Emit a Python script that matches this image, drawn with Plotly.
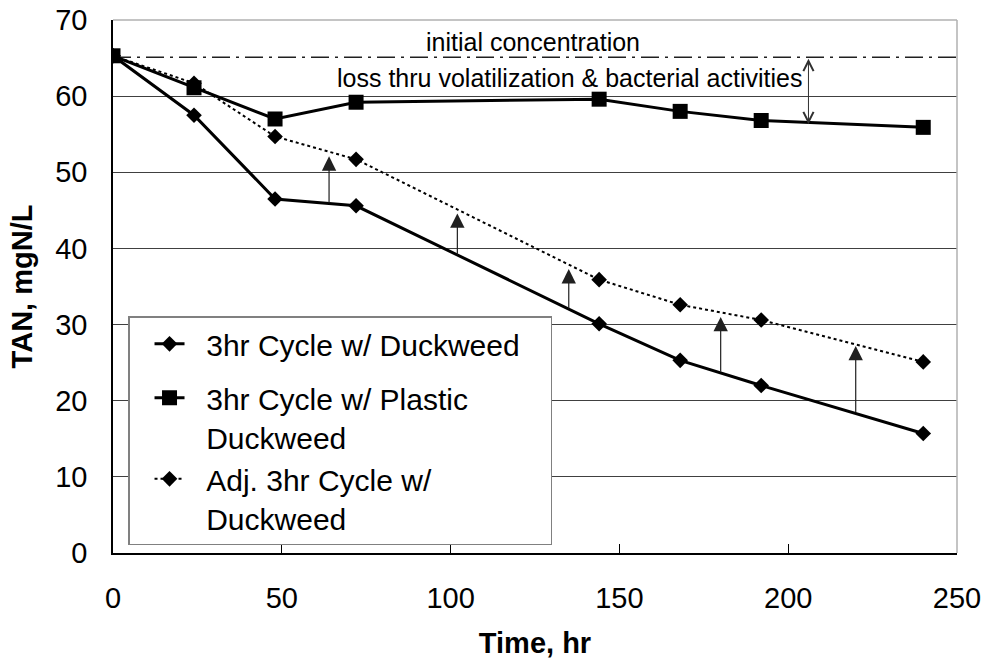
import plotly.graph_objects as go

time_hr = [0, 24, 48, 72, 144, 168, 192, 240]
duckweed = [65.3, 57.5, 46.5, 45.6, 30.1, 25.3, 22.0, 15.7]
plastic = [65.3, 61.1, 57.0, 59.2, 59.6, 58.0, 56.8, 55.9]
adj_duckweed = [65.3, 61.7, 54.7, 51.7, 35.9, 32.6, 30.6, 25.1]

initial_conc = 65.1
arrow_x = [64, 102, 135, 180, 220]
arrow_tip = [52.1, 44.6, 37.3, 31.0, 27.2]
arrow_base = [45.8, 39.0, 31.9, 23.6, 18.3]
loss_x = 206
loss_bottom = 56.3

pad = "\u00a0\u00a0"
names = [pad + "3hr Cycle w/ Duckweed" + pad + "\u00a0",
         pad + "3hr Cycle w/ Plastic<br>" + pad + "Duckweed",
         pad + "Adj. 3hr Cycle w/<br>" + pad + "Duckweed"]
font = "Liberation Sans, Arial, sans-serif"

fig = go.Figure()
fig.add_trace(go.Scatter(x=time_hr, y=duckweed, name=names[0], mode="lines+markers",
                         legendgroup="a",
                         line=dict(color="black", width=3),
                         marker=dict(symbol="diamond", size=12, color="black")))
fig.add_trace(go.Scatter(x=time_hr, y=plastic, name=names[1], mode="lines+markers",
                         legendgroup="b",
                         line=dict(color="black", width=3),
                         marker=dict(symbol="square", size=15, color="black")))
fig.add_trace(go.Scatter(x=time_hr, y=adj_duckweed, name=names[2], mode="lines+markers",
                         legendgroup="b",
                         line=dict(color="black", width=2, dash="dot"),
                         marker=dict(symbol="diamond", size=12, color="black")))

# initial concentration line
fig.add_shape(type="line", xref="x", yref="y", x0=0, x1=250, y0=initial_conc, y1=initial_conc,
              line=dict(color="#202020", width=1.5, dash="18px,6px,3px,6px"), layer="below")
# top/right border
fig.add_shape(type="line", xref="paper", yref="paper", x0=0, x1=1, y0=1, y1=1,
              line=dict(color="#b0b0b0", width=1.5))
fig.add_shape(type="line", xref="paper", yref="paper", x0=1, x1=1, y0=0, y1=1,
              line=dict(color="#b0b0b0", width=1.5))

for xa, tip, base in zip(arrow_x, arrow_tip, arrow_base):
    fig.add_annotation(x=xa, y=tip, ax=xa, ay=base, xref="x", yref="y", axref="x", ayref="y",
                       showarrow=True, arrowhead=2, arrowsize=2.4, arrowwidth=1.2,
                       arrowcolor="#202020", text="")

fig.add_annotation(x=loss_x, y=loss_bottom, ax=loss_x, ay=initial_conc, xref="x", yref="y",
                   axref="x", ayref="y", showarrow=True, arrowhead=5, startarrowhead=5,
                   arrowside="end+start", arrowsize=2, startarrowsize=2, arrowwidth=1,
                   arrowcolor="#303030", text="")

fig.add_annotation(x=124.4, y=67.1, xref="x", yref="y", text="initial concentration",
                   showarrow=False, font=dict(family=font, size=25, color="black"))
fig.add_annotation(x=135.2, y=62.4, xref="x", yref="y",
                   text="loss thru volatilization &amp; bacterial activities",
                   showarrow=False, font=dict(family=font, size=25, color="black"))

fig.update_layout(
    width=985, height=669,
    margin=dict(l=113, r=28, t=20, b=116),
    plot_bgcolor="white", paper_bgcolor="white",
    font=dict(family=font, size=29, color="black"),
    showlegend=True,
    legend=dict(x=0.0178, y=0.444, xanchor="left", yanchor="top",
                bgcolor="white", bordercolor="#808080", borderwidth=1.5,
                font=dict(family=font, size=30, color="black"),
                valign="top", tracegroupgap=12, indentation=20),
    xaxis=dict(range=[0, 250], tickvals=[0, 50, 100, 150, 200, 250], automargin=False,
               showgrid=False, zeroline=False, showline=True, linecolor="black", linewidth=1.5,
               ticks="inside", ticklen=9, tickcolor="black", ticklabelstandoff=18,
               title=dict(text="<b>Time, hr</b>", font=dict(family=font, size=29), standoff=20)),
    yaxis=dict(range=[0, 70], tickvals=[0, 10, 20, 30, 40, 50, 60, 70], automargin=False,
               showgrid=True, gridcolor="#404040", gridwidth=1, zeroline=False,
               showline=True, linecolor="black", linewidth=1.5, ticks="",
               ticklabelstandoff=18,
               title=dict(text="<b>TAN, mgN/L</b>", font=dict(family=font, size=29), standoff=14)),
)

fig.write_html("out.html")
